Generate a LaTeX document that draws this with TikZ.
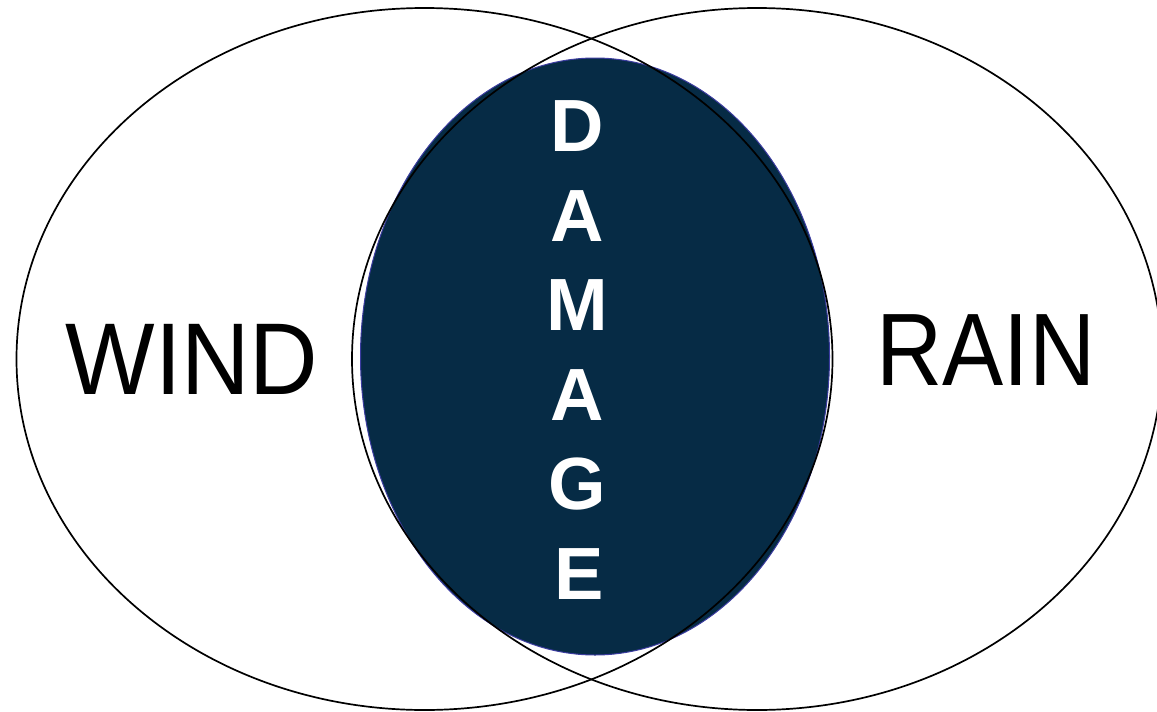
\documentclass[tikz,border=0pt]{standalone}
\usepackage{fontspec}
\setmainfont{Liberation Sans}
\usetikzlibrary{shapes.geometric}
\definecolor{navy}{RGB}{6,43,69}
\definecolor{rimblue}{RGB}{60,60,160}
\tikzset{
  ring/.style={draw=black, line width=1.7pt, ellipse, inner sep=0pt},
  core/.style={fill=navy, draw=rimblue, line width=1pt, ellipse, inner sep=0pt},
  bigword/.style={inner sep=0pt, text=black, font=\fontsize{102}{110}\selectfont},
  letter/.style={inner sep=0pt, text=white, font=\bfseries\fontsize{74}{80}\selectfont}
}
\begin{document}
\begin{tikzpicture}[x=1pt,y=-1pt]
\useasboundingbox (0,0) rectangle (1157,712);
\clip (0,0) rectangle (1157,712);
\node[core, minimum width=469pt, minimum height=597pt] (damage) at (595,356.5) {};
\node[ring, minimum width=816pt, minimum height=702pt] (windset) at (424.5,359) {};
\node[ring, minimum width=810pt, minimum height=702pt] (rainset) at (757,359) {};
\node[bigword, xscale=0.93] (wind) at (192,359) {WIND};
\node[bigword, xscale=0.89, font=\fontsize{103}{110}\selectfont] (rain) at (986,350) {RAIN};
\node[letter] (d1) at (577,126.5) {D};
\node[letter] (a1) at (577,216) {A};
\node[letter] (m1) at (577,305) {M};
\node[letter] (a2) at (577,395) {A};
\node[letter] (g1) at (577,484) {G};
\node[letter] (e1) at (579,574) {E};
\end{tikzpicture}
\end{document}
